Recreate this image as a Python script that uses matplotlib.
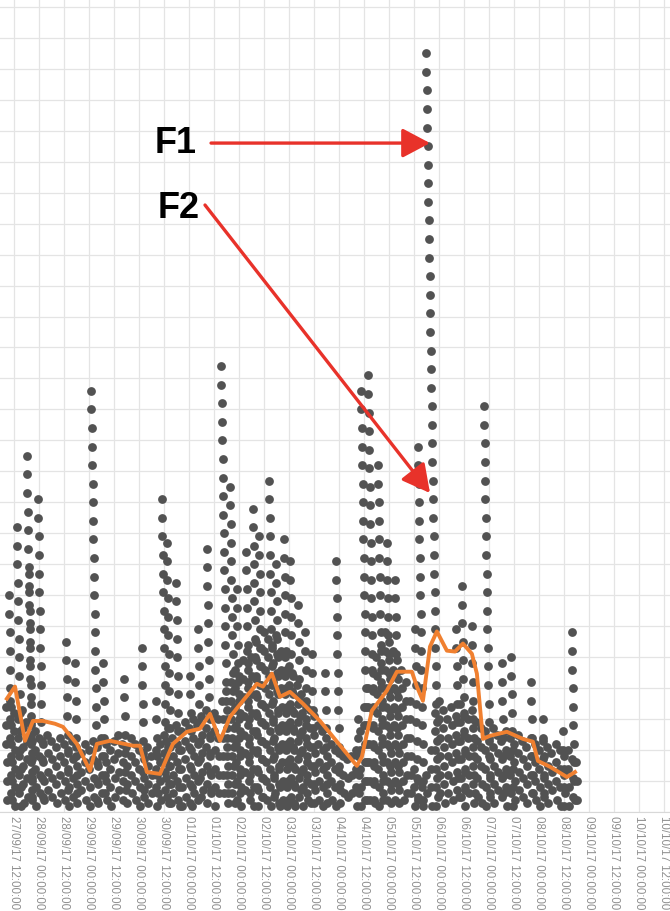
import numpy as np
import pandas as pd
import matplotlib
matplotlib.use('Agg')
import matplotlib.pyplot as plt

# x values are hours since 27/09/17 00:00:00, y values in grid units

# dense low band: one column every 2 hours, top dot value
base_start = 8
base_step = 2
base_top = [3.4, 3.6, 3.2, 3.0, 3.3, 2.9, 2.8,
            2.6, 2.4, 2.2, 2.5, 2.3, 2.1, 2.4, 2.2, 2.0, 2.3, 2.1, 1.9, 2.2, 2.0,
            2.3, 2.1, 2.4, 2.2, 2.0, 2.3, 2.5, 2.2, 2.1, 2.4, 2.2, 2.0, 1.9, 2.1, 1.8, 2.0, 2.2,
            2.5, 2.7, 2.4, 2.8, 2.6, 2.9, 2.7, 3.0, 2.8, 3.1, 3.3, 3.0, 3.2,
            3.0, 3.6, 3.9, 4.2, 4.6, 4.4, 4.9, 5.2, 5.0, 5.5, 5.3, 5.8, 5.6, 5.4, 5.7, 5.2,
            5.0, 4.7, 4.4, 4.1, 3.8,
            3.6, 3.3, 3.1, 2.8, 2.6, 2.4, 2.2, 2.0, 1.9, 1.8, 1.7, 1.8,
            2.0, 2.6, 3.4, 4.0, 4.6, 5.0, 5.4, 5.8, 5.5, 5.2, 4.9, 4.6, 4.2, 3.6,
            1.4, 1.0, 0.8, 1.2, 2.0,
            3.2, 3.6, 3.3, 3.0, 3.4, 3.1, 3.5, 3.2, 3.0, 3.3, 2.9, 2.7,
            2.6, 2.4, 2.7, 2.5, 2.3, 2.6, 2.4, 2.2, 2.5, 2.3, 2.1, 2.4, 2.2, 2.0,
            2.3, 2.1, 1.9, 2.2, 2.0, 1.8, 2.0, 1.7, 1.6]

# taller columns
spike_hours = [9.6, 13.4, 18.2, 19.2, 23.5, 37, 41.3, 49, 54.7, 64.8, 73.4, 80.2,
               83, 85.4, 89.8, 96.5, 100.3, 104.6, 111.4, 115.7, 119, 123.4, 126.7,
               129.6, 134.4, 137.8, 141.6, 144.5, 148.3, 151.7, 155, 161.3, 166.6,
               177, 178.6, 181.9, 186.7, 191, 194.9, 204.5, 205.9, 209.8, 224.2,
               227, 231.8, 237.6, 246.2, 250.6, 260.2, 265.9, 275.5, 279.8]
spike_top = [7.0, 9.2, 11.5, 7.7, 10.1, 5.5, 4.8, 13.6, 4.8, 4.3, 5.3, 3.6,
             10.1, 8.7, 7.4, 4.4, 5.9, 8.5, 14.4, 10.5, 7.2, 8.4, 9.8,
             8.9, 10.7, 8.0, 8.8, 8.1, 6.7, 5.8, 5.1, 4.5, 8.1,
             3.0, 13.6, 14.1, 11.2, 8.7, 7.5, 5.9, 11.8, 24.5, 5.9,
             7.3, 6.0, 13.1, 4.8, 5.0, 4.2, 3.0, 2.6, 5.8]

# moving average (orange)
avg_hours = [8.6, 12.5, 17.3, 21.1, 25.9, 31.7, 35.5, 42.2, 48.5, 51.8, 58.1, 69.1,
             72.5, 75.8, 82.1, 88.3, 95.0, 101.3, 106.1, 110.9, 115.7, 121.9, 128.6,
             131.5, 135.8, 139.7, 144.5, 150.7, 158.9, 165.1, 171.8, 176.6, 179.0,
             183.8, 191.0, 195.8, 203.0, 205.4, 208.3, 211.7, 215.0, 219.8, 223.7,
             227.5, 231.8, 234.2, 237.1, 240.5, 248.6, 256.3, 261.1, 263.5, 269.3,
             277.4, 281.3]
avg_value = [3.66, 4.05, 2.30, 2.94, 2.94, 2.85, 2.75, 2.20, 1.33, 2.20, 2.30, 2.14,
             2.14, 1.29, 1.23, 2.20, 2.59, 2.69, 3.17, 2.30, 3.07, 3.59, 4.14,
             4.05, 4.47, 3.72, 3.88, 3.50, 2.94, 2.43, 1.88, 1.49, 1.78,
             3.27, 3.92, 4.53, 4.53, 4.05, 3.59, 5.34, 5.83, 5.21, 5.18,
             5.44, 5.11, 4.47, 2.36, 2.46, 2.59, 2.36, 2.27, 1.65, 1.46,
             1.13, 1.29]

tick_hours = np.arange(12, 325, 12)
tick_labels = [t.strftime('%d/%m/%y %H:%M:%S')
               for t in pd.Timestamp('2017-09-27') + pd.to_timedelta(tick_hours, unit='h')]

# annotations (label, text pos, arrow start, arrow tip)
notes = [('F1', (89.8, 21.6), (106.6, 21.6), (211.7, 21.6)),
         ('F2', (91.2, 19.5), (103.7, 19.6), (211.7, 10.3))]

dot_step = 0.6     # vertical spacing of dots in a column
dot_slant = 0.14   # hours shift per dot going down

xs, ys = [], []
def add_column(h, top):
    k = 0
    while top - k * dot_step > 0.12:
        xs.append(h + k * dot_slant)
        ys.append(top - k * dot_step)
        k += 1

for i, top in enumerate(base_top):
    add_column(base_start + i * base_step, top)
for h, top in zip(spike_hours, spike_top):
    add_column(h, top)

fig = plt.figure(figsize=(6.7, 9.11), dpi=100)
ax = fig.add_axes([0, 99 / 911, 1, 812 / 911])

ax.scatter(xs, ys, s=40, color='#525252', linewidths=0, zorder=3)
ax.plot(avg_hours, avg_value, color='#f08030', lw=2.8, zorder=4)

ax.set_xlim(5.3, 326.9)
ax.set_ylim(0, 26.22)
ax.set_xticks(tick_hours)
ax.set_xticklabels(tick_labels, rotation=-90, fontsize=8.3, color='#909090',
                   family=['Liberation Sans', 'DejaVu Sans'], va='top', ha='center')
ax.set_yticks(np.arange(0, 27, 1))
ax.tick_params(axis='y', left=False, labelleft=False)
ax.tick_params(axis='x', length=0, pad=3)
ax.grid(True, color='#e4e4e4', lw=0.9, zorder=0)
ax.set_axisbelow(True)
for s in ['top', 'left', 'right']:
    ax.spines[s].set_visible(False)
ax.spines['bottom'].set_color('#d8d8d8')

for label, tpos, start, tip in notes:
    ax.text(tpos[0], tpos[1], label, fontsize=26, fontweight='bold',
            family=['Liberation Sans', 'DejaVu Sans'], ha='center', va='center', zorder=6)
    ax.annotate('', xy=tip, xytext=start, zorder=6,
                arrowprops=dict(arrowstyle='-|>,head_length=0.85,head_width=0.45',
                                mutation_scale=20, color='#e8322a', lw=2.4,
                                shrinkA=0, shrinkB=0))

fig.savefig('out.png', dpi=100)
